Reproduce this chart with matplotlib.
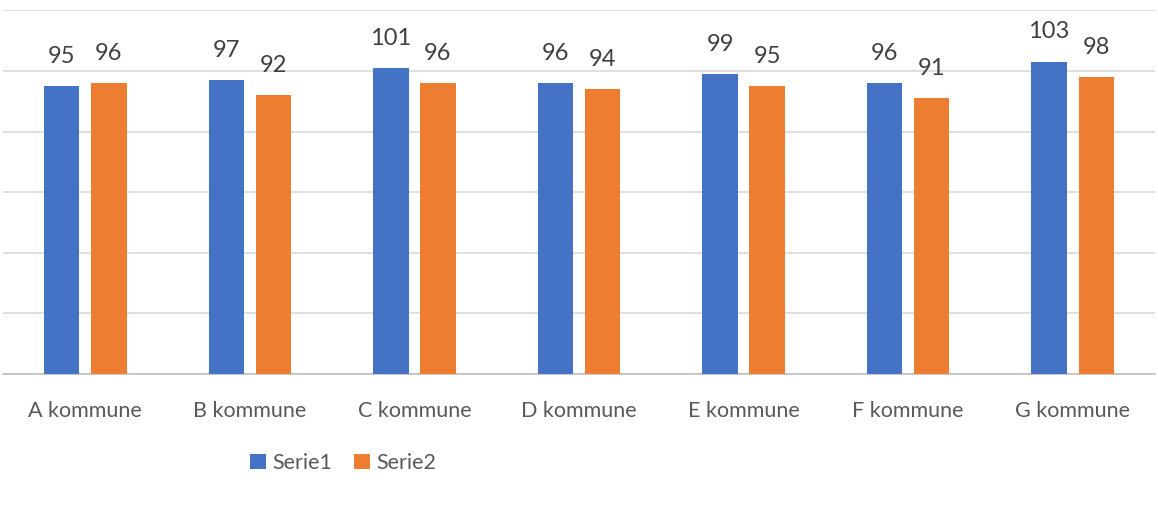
import matplotlib
matplotlib.use("Agg")
import matplotlib.pyplot as plt
import numpy as np

categories = ["A kommune", "B kommune", "C kommune", "D kommune",
              "E kommune", "F kommune", "G kommune"]
serie1 = [95, 97, 101, 96, 99, 96, 103]
serie2 = [96, 92, 96, 94, 95, 91, 98]
series_names = ["Serie1", "Serie2"]

BLUE = "#4472C4"
ORANGE = "#ED7D31"
TEXT = "#595959"
GRID = "#D9D9D9"

plt.rcParams["font.family"] = ["Lato", "DejaVu Sans"]

fig = plt.figure(figsize=(11.58, 5.18), dpi=100)
ax = fig.add_axes([3 / 1158, 144 / 518, 1152 / 1158, 363.6 / 518])

x = np.arange(len(categories))
w = 0.215
off = 0.143
b1 = ax.bar(x - off, serie1, w, color=BLUE, label=series_names[0], zorder=3)
b2 = ax.bar(x + off, serie2, w, color=ORANGE, label=series_names[1], zorder=3)

for bars, vals in ((b1, serie1), (b2, serie2)):
    for rect, v in zip(bars, vals):
        ax.annotate(str(v), (rect.get_x() + rect.get_width() / 2, v),
                    xytext=(0, 14), textcoords="offset points",
                    ha="center", va="bottom", fontsize=17, color="#404040")

ax.set_xlim(-0.5, len(categories) - 0.5)
ax.set_ylim(0, 120)
ax.set_yticks(np.arange(0, 121, 20))
ax.yaxis.grid(True, color=GRID, linewidth=1.2, zorder=0)
ax.tick_params(axis="y", left=False, labelleft=False)
ax.tick_params(axis="x", bottom=False, pad=16, labelsize=15.5, labelcolor=TEXT)
ax.set_xticks(x)
ax.set_xticklabels(categories)
for s in ("top", "right", "left"):
    ax.spines[s].set_visible(False)
ax.spines["bottom"].set_color("#BFBFBF")
ax.spines["bottom"].set_linewidth(1.2)

leg = fig.legend(loc="center", bbox_to_anchor=(343 / 1158, 1 - 463 / 518),
                 ncol=2, frameon=False, fontsize=15.5, handlelength=0.75,
                 handleheight=0.75, handletextpad=0.3, columnspacing=1.0)
for t in leg.get_texts():
    t.set_color(TEXT)

fig.savefig("out.png", dpi=100, facecolor="white")
